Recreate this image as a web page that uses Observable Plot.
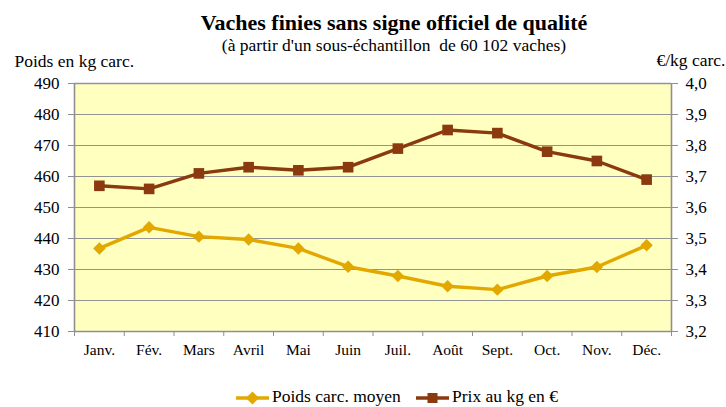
<!DOCTYPE html>
<html><head><meta charset="utf-8">
<script src="https://cdn.jsdelivr.net/npm/d3@7"></script>
<script src="https://cdn.jsdelivr.net/npm/@observablehq/plot@0.6"></script>
<style>
body{margin:0;background:#fff;font-family:"Liberation Serif","Times New Roman",serif;}
#wrap{position:relative;width:726px;height:407px;overflow:hidden;}
#legend{position:absolute;left:0;top:380px;}
</style></head>
<body><div id="wrap"><div id="chart"></div><svg id="legend" width="726" height="27"></svg></div>
<script>
const months = ["Janv.","Fév.","Mars","Avril","Mai","Juin","Juil.","Août","Sept.","Oct.","Nov.","Déc."];
const poids = [436.8, 443.6, 440.6, 439.7, 436.8, 430.9, 427.9, 424.6, 423.5, 427.9, 430.8, 437.8];
const prix = [3.67, 3.66, 3.71, 3.73, 3.72, 3.73, 3.79, 3.85, 3.84, 3.78, 3.75, 3.69];
const poidsTicks = [410, 420, 430, 440, 450, 460, 470, 480, 490];
const prixTicks = [3.2, 3.3, 3.4, 3.5, 3.6, 3.7, 3.8, 3.9, 4.0];
const title = "Vaches finies sans signe officiel de qualité";
const subtitle = "(à partir d'un sous-échantillon  de 60 102 vaches)";
const leftLabel = "Poids en kg carc.";
const rightLabel = "€/kg carc.";
const legendNames = ["Poids carc. moyen", "Prix au kg en €"];

const cPoids = "#E3A800", cPrix = "#8A3A0E";
const font = "Liberation Serif, Times New Roman, serif";
// price -> weight-axis mapping (dual axis)
const p2w = d3.scaleLinear().domain([prixTicks[0], prixTicks[prixTicks.length - 1]]).range([poidsTicks[0], poidsTicks[poidsTicks.length - 1]]);
const data = months.map((m, i) => ({m, i, x: i + 0.5, poids: poids[i], prix: p2w(prix[i])}));
const bounds = d3.range(0, months.length + 1);

const chart = Plot.plot({
  width: 726, height: 407,
  marginLeft: 74, marginRight: 55, marginTop: 83, marginBottom: 76,
  style: {fontFamily: font, fontSize: "17px", color: "#000", background: "#fff"},
  x: {domain: [0, months.length]},
  y: {domain: [poidsTicks[0], poidsTicks[poidsTicks.length - 1]]},
  marks: [
    Plot.frame({fill: "#FFFFC0", stroke: null}),
    Plot.gridY(poidsTicks, {stroke: "#939393", strokeOpacity: 1, strokeWidth: 1.2}),
    Plot.ruleX([0, months.length], {stroke: "#8f8f8f", strokeWidth: 1.6}),
    Plot.ruleY([poidsTicks[poidsTicks.length - 1]], {stroke: "#9090B0", strokeWidth: 1.6}),
    Plot.ruleY([poidsTicks[0]], {stroke: "#8f8f8f", strokeWidth: 1.6}),
    Plot.axisY(poidsTicks, {anchor: "left", tickSize: 6, tickPadding: 9, stroke: "#8f8f8f", label: null, fontSize: 17, fontFamily: font}),
    Plot.axisY(prixTicks.map(p2w), {anchor: "right", tickSize: 6, tickPadding: 8, stroke: "#8f8f8f", label: null, fontSize: 17, fontFamily: font,
      tickFormat: d => p2w.invert(d).toFixed(1).replace(".", ",")}),
    Plot.axisX(bounds, {anchor: "bottom", tickSize: 5, tickFormat: () => "", stroke: "#8f8f8f", label: null}),
    Plot.axisX(data.map(d => d.x), {anchor: "bottom", tickSize: 0, tickPadding: 12, tickFormat: d => months[Math.floor(d)], label: null, fontSize: 15.5, fontFamily: font}),
    Plot.line(data, {x: "x", y: "prix", stroke: cPrix, strokeWidth: 3.4}),
    Plot.dot(data, {x: "x", y: "prix", symbol: "square", r: 6, fill: cPrix, stroke: null}),
    Plot.line(data, {x: "x", y: "poids", stroke: cPoids, strokeWidth: 3.4}),
    Plot.dot(data, {x: "x", y: "poids", symbol: "diamond2", r: 5.6, fill: cPoids, stroke: null}),
    Plot.text([title], {frameAnchor: "top", lineAnchor: "middle", dx: 21, dy: -61, fontSize: 22, fontWeight: "bold", fill: "#000", fontFamily: font}),
    Plot.text([subtitle], {frameAnchor: "top", lineAnchor: "middle", dx: 21, dy: -38.5, fontSize: 17.5, fill: "#000", fontFamily: font}),
    Plot.text([leftLabel], {frameAnchor: "top-left", lineAnchor: "middle", textAnchor: "start", dx: -60, dy: -22, fontSize: 17.5, fill: "#000", fontFamily: font}),
    Plot.text([rightLabel], {frameAnchor: "top-right", lineAnchor: "middle", textAnchor: "end", dx: 54, dy: -23.5, fontSize: 17.5, fill: "#000", fontFamily: font})
  ]
});
document.getElementById("chart").appendChild(chart);

// legend
const lg = d3.select("#legend");
const items = [
  {name: legendNames[0], color: cPoids, sym: d3.symbolDiamond2, size: 110, x0: 236},
  {name: legendNames[1], color: cPrix, sym: d3.symbolSquare, size: 100, x0: 416}
];
for (const it of items) {
  const g = lg.append("g").attr("transform", `translate(${it.x0},18)`);
  g.append("line").attr("x1", 0).attr("x2", 33).attr("stroke", it.color).attr("stroke-width", 3.4);
  g.append("path").attr("d", d3.symbol(it.sym, it.size)()).attr("transform", "translate(16.5,0)").attr("fill", it.color);
  g.append("text").attr("x", 36).attr("y", 4).attr("font-size", 17.5).attr("font-family", font).text(it.name);
}
</script></body></html>
